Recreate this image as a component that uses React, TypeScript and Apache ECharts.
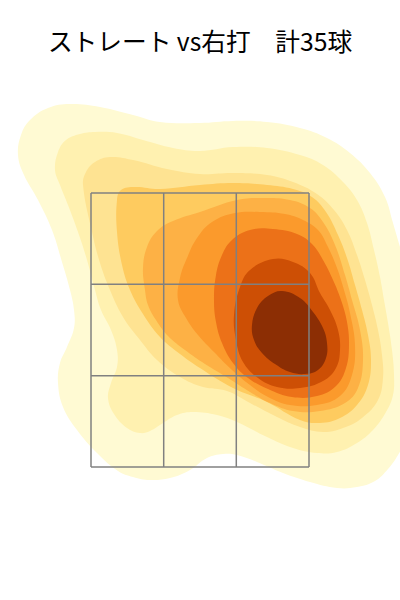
import React, { useEffect, useRef } from "react";
import * as echarts from "echarts";

// Title
const TITLE = "ストレート vs右打　計35球";

// Strike zone (horizontal position relative to plate centre, height above zone bottom)
const zoneX = [-109, -36.3, 36.3, 109];
const zoneY = [0, 91.3, 182.7, 274];

// Density band colours, outermost to innermost
const levelColors = [
  "#fffad3",
  "#fff1b0",
  "#fee392",
  "#fecb5f",
  "#fdb145",
  "#fb9a2c",
  "#ec7118",
  "#cd4f05",
  "#8c2e04",
];

// Contour outlines of each density level (x, y)
const level1 = [
  [-182, 312], [-179, 332], [-170, 347], [-152, 359], [-130, 363], [-100, 360], [-67, 352], [-40, 345],
  [0, 344], [33, 346], [67, 345], [100, 339], [127, 329], [150, 314], [170, 294], [185, 270], [193, 244],
  [200, 220], [210, 187], [214, 137], [214, 77], [208, 32], [198, 12], [188, -2], [175, -14], [157, -20],
  [137, -21], [110, -15], [83, -6], [57, 5], [37, 12], [23, 13], [7, 9], [-10, -3], [-30, -11], [-50, -13],
  [-67, -10], [-82, -4], [-103, 14], [-123, 37], [-137, 60], [-142, 84], [-140, 104], [-133, 120],
  [-126, 139], [-126, 157], [-130, 177], [-138, 205], [-148, 237], [-162, 267], [-176, 292],
];
const level2 = [
  [-145, 297], [-142, 315], [-134, 327], [-120, 333], [-105, 335], [-83, 334], [-57, 327], [-27, 319],
  [0, 316], [33, 320], [67, 319], [100, 312], [123, 302], [143, 285], [157, 267], [167, 244], [174, 217],
  [180, 190], [184, 167], [188, 144], [192, 117], [194, 92], [193, 72], [186, 55], [173, 37], [157, 24],
  [137, 15], [117, 14], [93, 19], [67, 30], [37, 45], [17, 52], [-7, 55], [-23, 52], [-37, 44], [-50, 36],
  [-60, 34], [-73, 39], [-86, 53], [-92, 69], [-89, 84], [-83, 100], [-83, 117], [-89, 137], [-99, 157],
  [-105, 177], [-113, 207], [-122, 235], [-132, 262], [-140, 282],
];
const level3 = [
  [-117, 282], [-114, 295], [-105, 305], [-90, 310], [-67, 307], [-33, 298], [0, 293], [33, 294],
  [67, 292], [93, 285], [117, 273], [134, 257], [147, 237], [157, 212], [165, 187], [172, 162],
  [178, 137], [182, 112], [183, 89], [178, 67], [162, 49], [143, 39], [123, 35], [100, 40], [77, 50],
  [50, 64], [27, 76], [3, 80], [-20, 90], [-43, 107], [-60, 127], [-77, 150], [-90, 177], [-100, 204],
  [-108, 235],
];
const level4 = [
  [-83, 267], [-79, 277], [-65, 280], [-40, 278], [0, 282], [33, 284], [67, 282], [93, 278], [112, 270],
  [126, 255], [138, 232], [147, 209], [155, 182], [162, 157], [168, 132], [171, 107], [168, 82],
  [157, 62], [140, 49], [120, 44], [100, 47], [67, 65], [33, 79], [0, 99], [-20, 113], [-40, 130],
  [-57, 153], [-70, 177], [-78, 202], [-83, 235],
];
const level5 = [
  [-55, 177], [-57, 199], [-53, 220], [-43, 236], [-27, 246], [0, 255], [37, 267], [65, 269], [90, 267],
  [110, 259], [123, 245], [135, 222], [145, 192], [152, 167], [160, 137], [163, 107], [158, 79],
  [145, 64], [120, 56], [93, 56], [70, 64], [50, 75], [28, 89], [5, 103], [-15, 117], [-32, 131],
  [-44, 147], [-52, 162],
];
const level6 = [
  [-22, 167], [-20, 189], [-13, 209], [-3, 229], [12, 245], [35, 254], [60, 255], [85, 253], [103, 247],
  [118, 237], [128, 220], [137, 199], [144, 177], [150, 154], [155, 122], [152, 92], [140, 71],
  [117, 62], [90, 62], [68, 70], [50, 82], [32, 97], [14, 115], [-2, 132], [-14, 149],
];
const level7 = [
  [14, 167], [16, 192], [22, 212], [32, 227], [50, 237], [73, 238], [97, 233], [112, 223], [123, 207],
  [133, 187], [141, 167], [147, 145], [149, 122], [146, 99], [136, 81], [117, 71], [92, 70], [68, 78],
  [48, 89], [33, 104], [22, 124], [16, 145],
];
const level8 = [
  [40, 180], [50, 197], [73, 208], [93, 205], [110, 194], [120, 174], [130, 157], [138, 137], [140, 117],
  [136, 99], [123, 86], [100, 79], [77, 80], [58, 89], [43, 105], [36, 127], [34, 152],
];
const level9 = [
  [82, 176], [68, 171], [57, 159], [52, 142], [54, 127], [62, 114], [75, 103], [90, 95], [105, 93],
  [118, 97], [126, 109], [127, 124], [123, 139], [113, 155], [100, 169],
];

const levels = [level1, level2, level3, level4, level5, level6, level7, level8, level9];

export default function App() {
  const ref = useRef<HTMLDivElement>(null);

  useEffect(() => {
    if (!ref.current) return;
    const chart = echarts.init(ref.current, null, { renderer: "svg" });

    const zoneLines: number[][] = [];
    zoneX.forEach((x) => zoneLines.push([x, zoneY[0], x, zoneY[zoneY.length - 1]]));
    zoneY.forEach((y) => zoneLines.push([zoneX[0], y, zoneX[zoneX.length - 1], y]));

    chart.setOption({
      animation: false,
      backgroundColor: "#ffffff",
      title: {
        text: TITLE,
        left: "center",
        top: 23,
        textStyle: {
          fontFamily: "'Noto Sans CJK JP', 'Noto Sans', sans-serif",
          fontSize: 24.7,
          fontWeight: "normal",
          color: "#000000",
        },
      },
      grid: { left: 91, top: 193, width: 218, height: 274 },
      xAxis: { type: "value", min: zoneX[0], max: zoneX[zoneX.length - 1], show: false },
      yAxis: { type: "value", min: zoneY[0], max: zoneY[zoneY.length - 1], show: false },
      series: [
        {
          type: "custom",
          silent: true,
          clip: false,
          z: 1,
          data: levels.map((_, i) => [0, 0, i]),
          renderItem: (params: any, api: any) => {
            const idx = params.dataIndex;
            const pts = levels[idx].map((p) => api.coord(p));
            return {
              type: "polygon",
              shape: { points: pts, smooth: 0.4 },
              style: { fill: levelColors[idx], stroke: null },
            };
          },
        },
        {
          type: "custom",
          silent: true,
          clip: false,
          z: 5,
          data: zoneLines,
          renderItem: (params: any, api: any) => {
            const p1 = api.coord([api.value(0), api.value(1)]);
            const p2 = api.coord([api.value(2), api.value(3)]);
            return {
              type: "line",
              shape: { x1: p1[0], y1: p1[1], x2: p2[0], y2: p2[1] },
              style: { stroke: "#808080", lineWidth: 1.5 },
            };
          },
        },
      ],
    });

    return () => chart.dispose();
  }, []);

  return (
    <div
      ref={ref}
      style={{ position: "absolute", left: 0, top: 0, width: 400, height: 600 }}
    />
  );
}
